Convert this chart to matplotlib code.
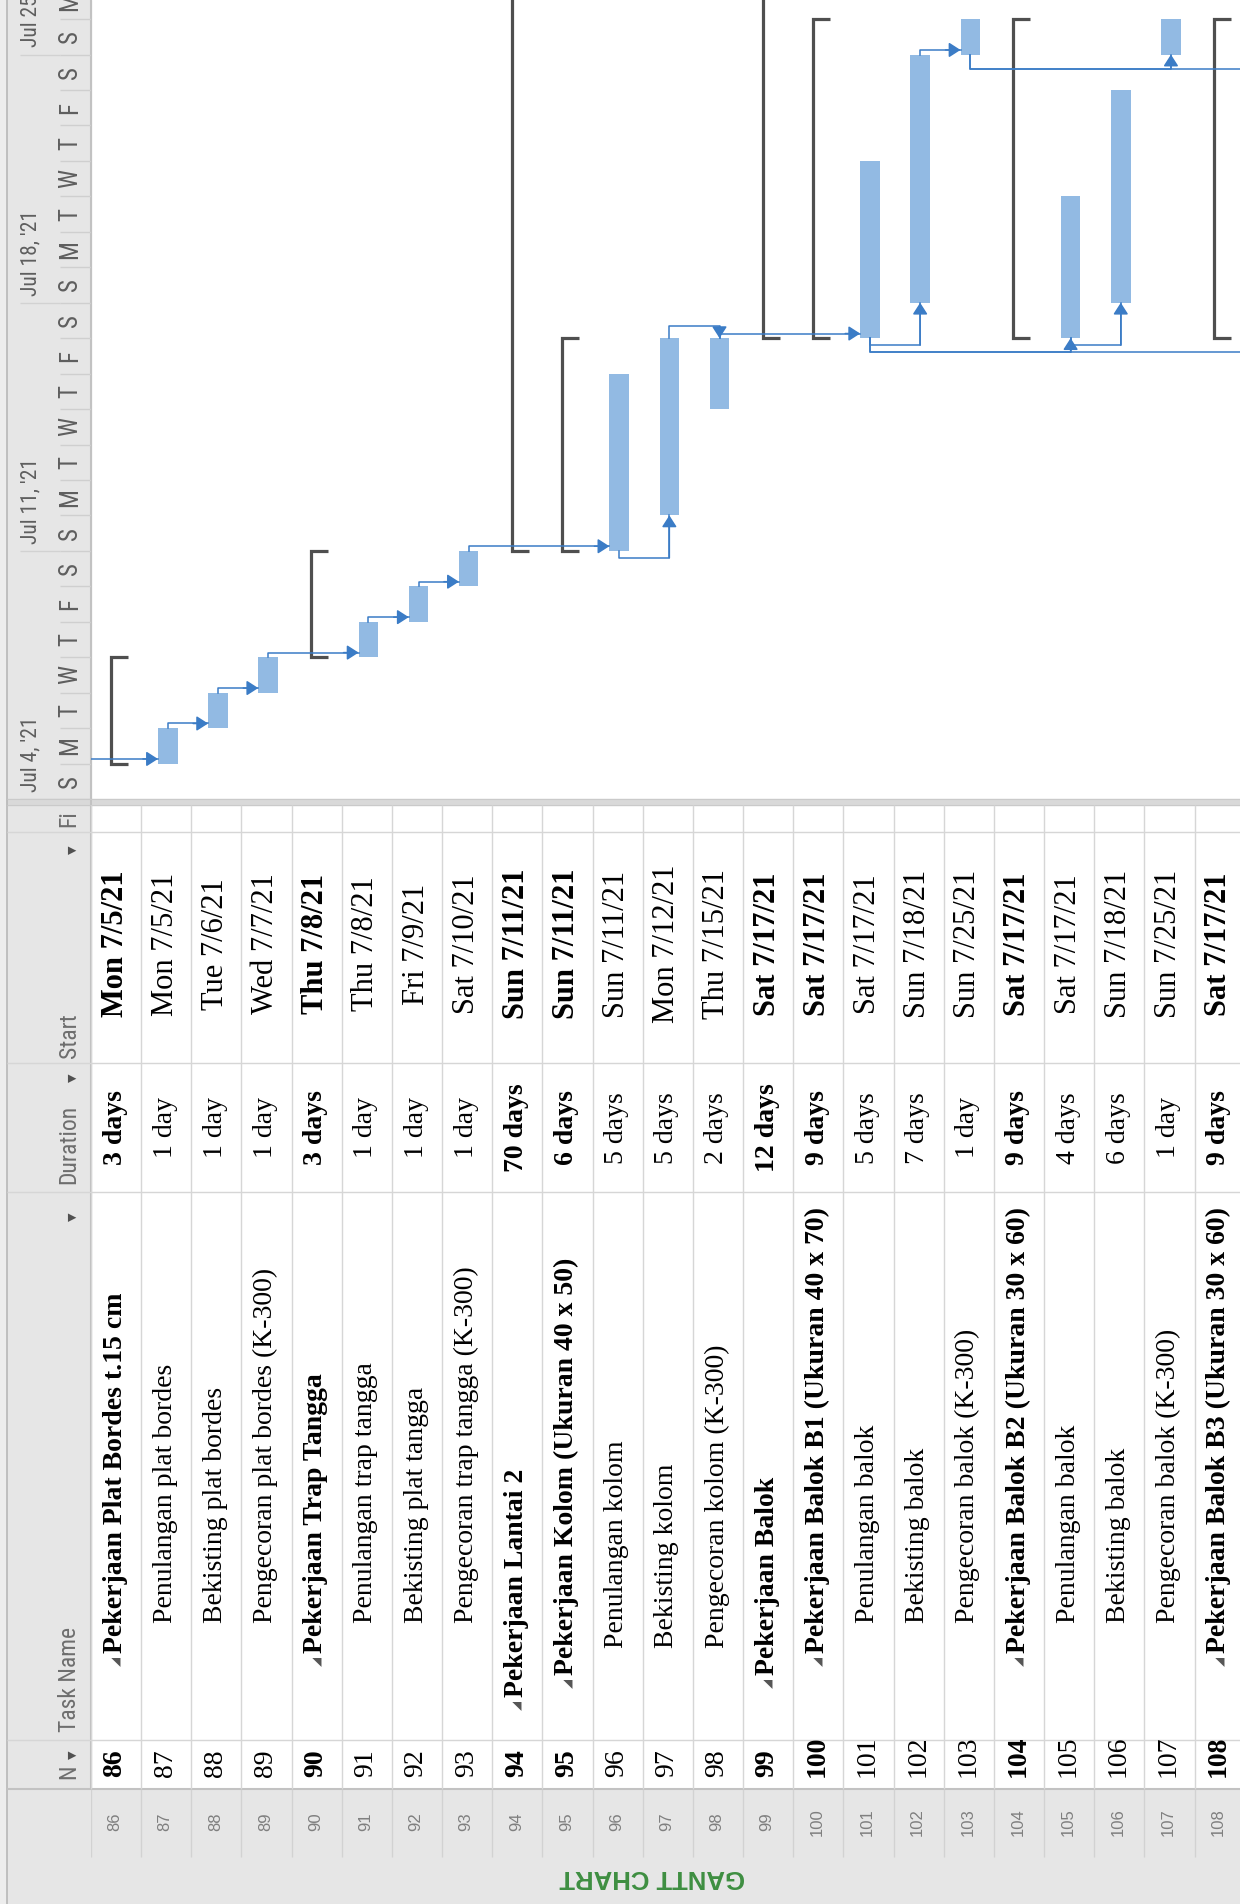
import numpy as np
import pandas as pd
import matplotlib
matplotlib.use('Agg')
import matplotlib.pyplot as plt
import matplotlib.dates as mdates
from matplotlib.patches import Rectangle
from matplotlib import font_manager

# data (rotated 90 deg)
ids = list(range(86, 109))
names = ['Pekerjaan Plat Bordes t.15 cm', 'Penulangan plat bordes', 'Bekisting plat bordes',
         'Pengecoran plat bordes (K-300)', 'Pekerjaan Trap Tangga', 'Penulangan trap tangga',
         'Bekisting plat tangga', 'Pengecoran trap tangga (K-300)', 'Pekerjaan Lantai 2',
         'Pekerjaan Kolom (Ukuran 40 x 50)', 'Penulangan kolom', 'Bekisting kolom',
         'Pengecoran kolom (K-300)', 'Pekerjaan Balok', 'Pekerjaan Balok B1 (Ukuran 40 x 70)',
         'Penulangan balok', 'Bekisting balok', 'Pengecoran balok (K-300)',
         'Pekerjaan Balok B2 (Ukuran 30 x 60)', 'Penulangan balok', 'Bekisting balok',
         'Pengecoran balok (K-300)', 'Pekerjaan Balok B3 (Ukuran 30 x 60)']
durations = [3, 1, 1, 1, 3, 1, 1, 1, 70, 6, 5, 5, 2, 12, 9, 5, 7, 1, 9, 4, 6, 1, 9]
starts = ['2021-07-05', '2021-07-05', '2021-07-06', '2021-07-07', '2021-07-08', '2021-07-08',
          '2021-07-09', '2021-07-10', '2021-07-11', '2021-07-11', '2021-07-11', '2021-07-12',
          '2021-07-15', '2021-07-17', '2021-07-17', '2021-07-17', '2021-07-18', '2021-07-25',
          '2021-07-17', '2021-07-17', '2021-07-18', '2021-07-25', '2021-07-17']
levels = [3, 4, 4, 4, 3, 4, 4, 4, 1, 2, 3, 3, 3, 2, 3, 4, 4, 4, 3, 4, 4, 4, 3]
summary = [1, 0, 0, 0, 1, 0, 0, 0, 1, 1, 0, 0, 0, 1, 1, 0, 0, 0, 1, 0, 0, 0, 1]

# tasks outside the visible rows, only their links show
off_ids = [85, 109, 111]
off_starts = ['2021-07-04', '2021-07-17', '2021-07-25']
off_durations = [1, 5, 1]

# links: predecessor, successor, type, routing gap (days)
link_pred = [85, 87, 88, 89, 91, 92, 93, 96, 97, 98, 101, 102, 101, 101, 105, 103, 103]
link_succ = [87, 88, 89, 91, 92, 93, 96, 97, 98, 101, 102, 103, 105, 109, 106, 107, 111]
link_type = ['FS', 'FS', 'FS', 'FS', 'FS', 'FS', 'FS', 'SS', 'FF', 'FS', 'SS', 'FS', 'SS', 'SS', 'SS', 'SS', 'SS']
link_gap = [0.13, 0.13, 0.13, 0.13, 0.13, 0.13, 0.13, 0.2, 0.33, 0.13, 0.2, 0.13, 0.4, 0.4, 0.2, 0.4, 0.4]

view_start = '2021-07-04'

# ---- fonts
avail = {f.name for f in font_manager.fontManager.ttflist}
narrow = 'Liberation Sans'
for f in ['Liberation Sans Narrow', 'Roboto Condensed', 'Open Sans Condensed']:
    if f in avail:
        narrow = f
        break
serif = 'Liberation Serif'

BAR = '#92BAE3'
SUMC = '#4F4F4F'
LINK = '#3B7CC6'
GRID = '#D6D6D6'
GRAY = '#E6E6E6'

W, H = 1240, 1904
fig = plt.figure(figsize=(12.4, 19.04), dpi=100)


def add_ax(x0, y0, x1, y1, **kw):
    ax = fig.add_axes([x0 / W, 1 - y1 / H, (x1 - x0) / W, (y1 - y0) / H], **kw)
    ax.set_axis_off()
    return ax


# background frame
bg = add_ax(0, 0, W, H)
bg.set_xlim(0, W)
bg.set_ylim(H, 0)
bg.add_patch(Rectangle((0, 0), 7, H, color='#EDEDED'))
bg.add_patch(Rectangle((7, 0), 84, 1789, color=GRAY))
bg.add_patch(Rectangle((7, 1789), W - 7, H - 1789, color=GRAY))
bg.add_patch(Rectangle((7, 799), W - 7, 6, color='#D9D9D9'))
bg.vlines(7, 0, H, color='#B8B8B8', lw=1.2)
bg.vlines(91, 0, 1789, color='#C2C2C2', lw=1.5)
bg.hlines(1789, 7, W, color='#C2C2C2', lw=1.5)
bg.hlines([799, 805], 7, W, color='#CACACA', lw=0.8)
col_lines = [832, 1063, 1192, 1740]
bg.hlines(col_lines, 7, 91, color=GRID, lw=1)
bg.text(652, 1877, 'GANTT CHART', rotation=180, ha='center', va='center',
        color='#3E8E41', fontsize=18.5, fontweight='bold', family='Liberation Sans')

row_w = 50.16
day_h = 35.45
x_lo = 85.5
x_hi = x_lo + (W - 91) / row_w
d0 = mdates.date2num(pd.Timestamp(view_start))

# ---- gantt pane
ax_g = add_ax(91, 0, W, 799)
ax_g.set_xlim(x_lo, x_hi)
ax_g.set_ylim(d0, d0 + 799 / day_h)

st = mdates.date2num(pd.to_datetime(starts))
dur = np.array(durations, dtype=float)
fin = st + dur
idx = np.array(ids)
summ = np.array(summary, dtype=bool)

ax_g.bar(idx[~summ] + 0.03, dur[~summ], bottom=st[~summ], width=0.39, color=BAR, edgecolor='none', zorder=3)

for i, s, f in zip(idx[summ], st[summ], fin[summ]):
    ax_g.plot([i + 0.23, i - 0.11, i - 0.11, i + 0.23], [s, s, f, f], color=SUMC, lw=2.3,
              solid_joinstyle='miter', solid_capstyle='butt', zorder=2)

# lookup for links
t_start = dict(zip(ids, st))
t_fin = dict(zip(ids, fin))
o_st = mdates.date2num(pd.to_datetime(off_starts))
for i, s, d in zip(off_ids, o_st, off_durations):
    t_start[i] = s
    t_fin[i] = s + d

for p, s, kind, gap in zip(link_pred, link_succ, link_type, link_gap):
    xp = p + 0.03
    xs = s + 0.03
    if kind == 'FS':
        y = t_fin[p] + gap
        tip = (xs - 0.195, y)
        xs_path = [xp, xp, tip[0]]
        ys_path = [t_fin[p], y, y]
        tail = (tip[0] - 0.3, y)
    elif kind == 'FF':
        y = t_fin[p] + gap
        tip = (xs, t_fin[s])
        xs_path = [xp, xp, xs, xs]
        ys_path = [t_fin[p], y, y, t_fin[s]]
        tail = (xs, y)
    else:
        y = t_start[p] - gap
        tip = (xs, t_start[s])
        xs_path = [xp, xp, xs, xs]
        ys_path = [t_start[p], y, y, t_start[s]]
        tail = (xs, y)
    ax_g.plot(xs_path, ys_path, color=LINK, lw=1.1, zorder=4)
    if x_lo < tip[0] < x_hi:
        ax_g.annotate('', xy=tip, xytext=tail,
                      arrowprops=dict(arrowstyle='-|>,head_length=0.7,head_width=0.45',
                                      color=LINK, lw=1.1, shrinkA=0, shrinkB=0, mutation_scale=10),
                      zorder=5)

# ---- timescale header
ax_ts = add_ax(8, 0, 91, 799, sharey=ax_g)
ax_ts.set_xlim(8, 91)
days = pd.date_range(view_start, periods=23)
weeks = pd.date_range(view_start, periods=4, freq='7D')
dn = mdates.date2num(days)
ax_ts.hlines(dn, 60, 91, color='#CFCFCF', lw=1)
for d, t in zip(dn, days):
    ax_ts.text(70, d + 0.5, t.strftime('%a')[0], rotation=90, rotation_mode='anchor',
               ha='center', va='center', fontsize=18, color='#5E5E5E', family=narrow)
wn = mdates.date2num(weeks)
ax_ts.hlines(wn, 20, 60, color='#D2D2D2', lw=1)
for d, t in zip(wn, weeks):
    ax_ts.text(31, d + 0.2, f"{t:%b} {t.day}, '{t:%y}", rotation=90, rotation_mode='anchor',
               ha='left', va='center', fontsize=15.5, color='#5E5E5E', family=narrow)

# ---- table
ax_t = add_ax(91, 805, W, 1789, sharex=ax_g)
ax_t.set_ylim(1789, 805)
ax_t.vlines(np.arange(85.5, 109.5, 1), 805, 1789, color=GRID, lw=1)
for y in col_lines:
    ax_t.axhline(y, color=GRID, lw=1)

for k, i in enumerate(ids):
    wt = 'bold' if summary[k] else 'normal'
    t = pd.Timestamp(starts[k])
    d = durations[k]
    kw = dict(rotation=90, rotation_mode='anchor', va='center',
              family=serif, fontweight=wt, color='black')
    ax_t.text(i - 0.02, 944, f"{t:%a} {t.month}/{t.day}/{t:%y}", ha='center', fontsize=22, **kw)
    ax_t.text(i - 0.02, 1128, f"{d} day" if d == 1 else f"{d} days", ha='center', fontsize=20, **kw)
    ax_t.text(i - 0.02, 1777, str(i), ha='left', fontsize=20, **kw)
    if summary[k]:
        ty = 1719 - 22 * levels[k]
        ax_t.text(i + 0.02, ty + 9, '\u25e2', rotation=90, rotation_mode='anchor', ha='center',
                  va='center', fontsize=8.5, color='#555555', family='DejaVu Sans')
    else:
        ty = 1723 - 25 * levels[k]
    ax_t.text(i - 0.02, ty, names[k], ha='left', fontsize=20, **kw)

# ---- table column headers
ax_th = add_ax(8, 805, 91, 1789)
ax_th.set_xlim(8, 91)
ax_th.set_ylim(1789, 805)
hdr = dict(rotation=90, rotation_mode='anchor', va='center', ha='left',
           fontsize=17, color='#6E6E6E', family=[narrow, 'DejaVu Sans'])
ax_th.text(69, 827, 'Fi', clip_on=True, **hdr)
ax_th.text(69, 1058, 'Start', **hdr)
ax_th.text(69, 1184, 'Duration', **hdr)
ax_th.text(69, 1732, 'Task Name', **hdr)
ax_th.text(69, 1779, 'N', **hdr)
for y in [850, 1078, 1217, 1755]:
    ax_th.text(73, y, '\u25bc', rotation=90, rotation_mode='anchor', ha='center', va='center',
               fontsize=8, color='#505050', family='DejaVu Sans')

# ---- row header strip
ax_b = add_ax(91, 1789, W, H, sharex=ax_g)
ax_b.set_ylim(H, 1789)
ax_b.vlines(np.arange(85.5, 109.5, 1), 1789, 1857, color='#D2D2D2', lw=1)
for i in ids:
    ax_b.text(i - 0.02, 1822, str(i), rotation=90, rotation_mode='anchor', ha='center', va='center',
              fontsize=12, color='#7F7F7F', family='Liberation Sans')

plt.savefig('out.png', dpi=100)
